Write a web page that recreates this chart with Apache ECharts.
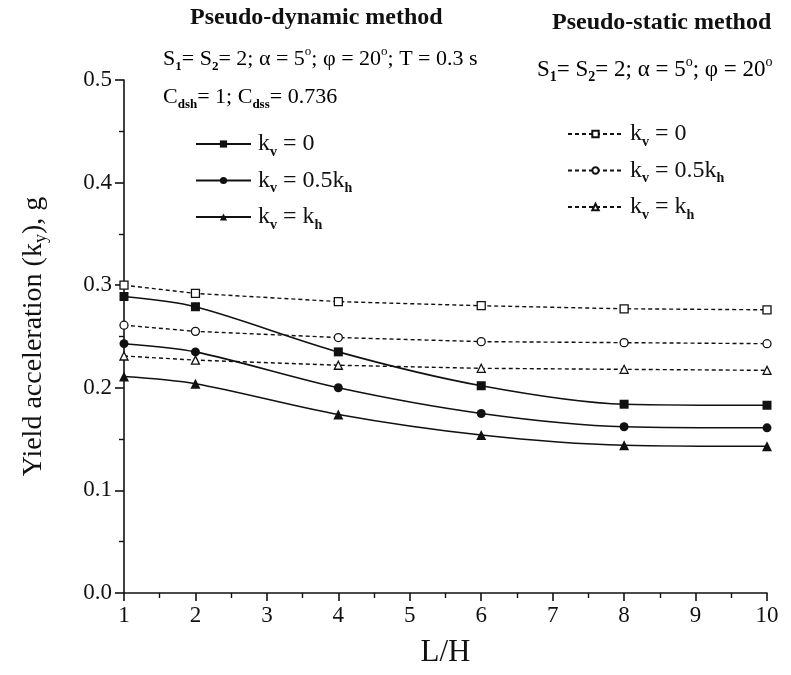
<!DOCTYPE html>
<html>
<head>
<meta charset="utf-8">
<script src="https://cdn.jsdelivr.net/npm/echarts@6/dist/echarts.min.js"></script>
<style>
  html, body { margin: 0; padding: 0; background: #fff; }
  #chart { width: 791px; height: 675px; }
</style>
</head>
<body>
<div id="chart"></div>
<script>
// L/H ratios at which the yield acceleration was computed
const ratioLH = [1, 2, 4, 6, 8, 10];

// Pseudo-dynamic method (solid curves, filled markers)
const dynKv0 = [0.289, 0.279, 0.235, 0.202, 0.184, 0.183];
const dynKvHalf = [0.243, 0.235, 0.200, 0.175, 0.162, 0.161];
const dynKvFull = [0.211, 0.204, 0.174, 0.154, 0.144, 0.143];

// Pseudo-static method (dashed lines, open markers)
const staKv0 = [0.300, 0.292, 0.284, 0.280, 0.277, 0.276];
const staKvHalf = [0.261, 0.255, 0.249, 0.245, 0.244, 0.243];
const staKvFull = [0.231, 0.227, 0.222, 0.219, 0.218, 0.217];

const xTicks = [1, 2, 3, 4, 5, 6, 7, 8, 9, 10];
const yTicks = [0.0, 0.1, 0.2, 0.3, 0.4, 0.5];

const FONT = '"Liberation Serif", "DejaVu Serif", serif';
const INK = '#111';

const pairs = (ys) => ratioLH.map((x, i) => [x, ys[i]]);

// rich text styles for subscripts / superscripts
const richBase = (size) => ({
  m: { fontFamily: FONT, fontSize: size, color: INK, lineHeight: Math.round(size * 1.25) },
  s: { fontFamily: FONT, fontSize: Math.round(size * 0.6), fontWeight: 'bold', color: INK, verticalAlign: 'bottom', lineHeight: 12 },
  p: { fontFamily: FONT, fontSize: Math.round(size * 0.6), color: INK, verticalAlign: 'top', lineHeight: 12 }
});

const legendLabels = {
  'PD kv=0': '{m|k}{s|v}{m| = 0}',
  'PD kv=0.5kh': '{m|k}{s|v}{m| = 0.5k}{s|h}',
  'PD kv=kh': '{m|k}{s|v}{m| = k}{s|h}',
  'PS kv=0': '{m|k}{s|v}{m| = 0}',
  'PS kv=0.5kh': '{m|k}{s|v}{m| = 0.5k}{s|h}',
  'PS kv=kh': '{m|k}{s|v}{m| = k}{s|h}'
};

function solidSeries(name, ys, symbol, size) {
  return {
    name, type: 'line', data: pairs(ys), smooth: 0.3,
    symbol, symbolSize: size,
    lineStyle: { color: INK, width: 1.6, type: 'solid' },
    itemStyle: { color: INK, borderColor: INK, borderWidth: 0 },
    z: 3
  };
}
function dashedSeries(name, ys, symbol, size) {
  return {
    name, type: 'line', data: pairs(ys), smooth: false,
    symbol, symbolSize: size,
    lineStyle: { color: INK, width: 1.4, type: [4, 3] },
    itemStyle: { color: '#fff', borderColor: INK, borderWidth: 1.3 },
    z: 2
  };
}

// annotation text placed by its left edge and vertical centre
function note(x, y, text, rich) {
  return {
    type: 'text', x, y,
    style: { text, rich, align: 'left', verticalAlign: 'middle' }
  };
}
function heading(x, y, text) {
  return {
    type: 'text', x, y,
    style: {
      text, fontFamily: FONT, fontWeight: 'bold', fontSize: 24, fill: INK,
      align: 'left', verticalAlign: 'middle'
    }
  };
}

const chart = echarts.init(document.getElementById('chart'), null, { renderer: 'canvas' });

const option = {
  backgroundColor: '#fff',
  animation: false,
  grid: { left: 124, right: 24, top: 80, bottom: 82 },
  xAxis: {
    type: 'value', min: 1, max: 10, interval: 1,
    name: 'L/H', nameLocation: 'middle', nameGap: 44,
    nameTextStyle: { fontFamily: FONT, fontSize: 31, color: INK },
    axisLine: { show: true, lineStyle: { color: INK, width: 1.6 } },
    axisTick: { show: true, inside: false, length: 8, lineStyle: { color: INK, width: 1.6 } },
    minorTick: { show: true, splitNumber: 2, length: 5, lineStyle: { color: INK, width: 1.4 } },
    splitLine: { show: false },
    axisLabel: {
      margin: 11, fontFamily: FONT, fontSize: 23, color: INK,
      formatter: (v) => (xTicks.includes(v) ? String(v) : '')
    }
  },
  yAxis: {
    type: 'value', min: 0, max: 0.5, interval: 0.1,
    name: '{m|Yield acceleration (k}{s|y}{m|), g}', nameLocation: 'middle', nameGap: 74,
    nameRotate: 90,
    nameTextStyle: {
      rich: {
        m: { fontFamily: FONT, fontSize: 28, color: INK, lineHeight: 32 },
        s: { fontFamily: FONT, fontSize: 18, color: INK, verticalAlign: 'bottom', lineHeight: 14 }
      }
    },
    axisLine: { show: true, lineStyle: { color: INK, width: 1.6 } },
    axisTick: { show: true, inside: false, length: 9, lineStyle: { color: INK, width: 1.6 } },
    minorTick: { show: true, splitNumber: 2, length: 5, lineStyle: { color: INK, width: 1.4 } },
    splitLine: { show: false },
    axisLabel: {
      margin: 12, fontFamily: FONT, fontSize: 23, color: INK,
      formatter: (v) => {
        const t = yTicks.find((y) => Math.abs(y - v) < 1e-9);
        return t === undefined ? '' : t.toFixed(1);
      }
    }
  },
  legend: [
    {
      data: ['PD kv=0', 'PD kv=0.5kh', 'PD kv=kh'],
      orient: 'vertical', left: 190, top: 127, itemGap: 9.5,
      itemWidth: 55, itemHeight: 9, selectedMode: false,
      formatter: (n) => legendLabels[n],
      textStyle: { padding: [0, 0, 0, 2], rich: richBase(24) }
    },
    {
      data: ['PS kv=0', 'PS kv=0.5kh', 'PS kv=kh'],
      orient: 'vertical', left: 562, top: 117, itemGap: 9.5,
      itemWidth: 55, itemHeight: 8, selectedMode: false,
      formatter: (n) => legendLabels[n],
      textStyle: { padding: [0, 0, 0, 2], rich: richBase(24) }
    }
  ],
  graphic: [
    heading(190, 18, 'Pseudo-dynamic method'),
    note(163, 59, '{m|S}{s|1}{m|= S}{s|2}{m|= 2; α = 5}{p|o}{m|; φ = 20}{p|o}{m|; T = 0.3 s}', richBase(22)),
    note(163, 97, '{m|C}{s|dsh}{m|= 1; C}{s|dss}{m|= 0.736}', richBase(22)),
    heading(552, 23, 'Pseudo-static method'),
    note(537, 70, '{m|S}{s|1}{m|= S}{s|2}{m|= 2; α = 5}{p|o}{m|; φ = 20}{p|o}', richBase(23))
  ],
  series: [
    solidSeries('PD kv=0', dynKv0, 'rect', 9),
    solidSeries('PD kv=0.5kh', dynKvHalf, 'circle', 9),
    solidSeries('PD kv=kh', dynKvFull, 'triangle', 10),
    dashedSeries('PS kv=0', staKv0, 'rect', 8),
    dashedSeries('PS kv=0.5kh', staKvHalf, 'circle', 8),
    dashedSeries('PS kv=kh', staKvFull, 'triangle', 8)
  ]
};

chart.setOption(option);
</script>
</body>
</html>
